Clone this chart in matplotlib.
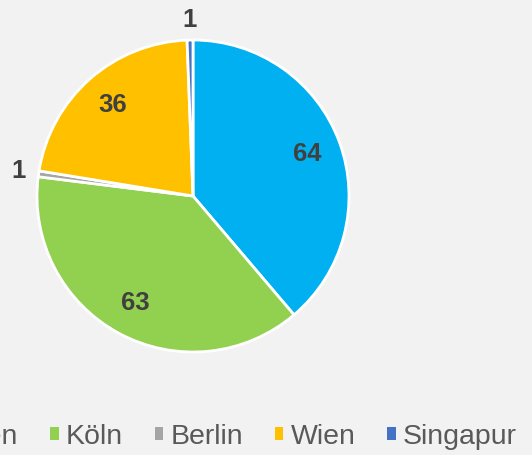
import numpy as np
import matplotlib
matplotlib.use("Agg")
import matplotlib.pyplot as plt
from matplotlib.patches import Patch

# data
cities = ['München', 'Köln', 'Berlin', 'Wien', 'Singapur']
counts = [64, 63, 1, 36, 1]
colors = ['#00b0f0', '#92d050', '#a5a5a5', '#ffc000', '#4472c4']

plt.rcParams['font.family'] = ['Liberation Sans', 'DejaVu Sans']

fig = plt.figure(figsize=(5.32, 4.55), dpi=100)
fig.patch.set_facecolor('#f2f2f2')

# pie centre ~ (193,196) px, radius ~156 px
ax = fig.add_axes([37 / 532, (455 - 196 - 156) / 455, 312 / 532, 312 / 455])
ax.set_facecolor('#f2f2f2')

wedges, texts, autotexts = ax.pie(
    counts, colors=colors, startangle=90, counterclock=False,
    radius=1.0, autopct=lambda p: '%d' % round(p * sum(counts) / 100),
    pctdistance=0.78,
    wedgeprops=dict(edgecolor='#ffffff', linewidth=2),
    textprops=dict(fontsize=18.5, fontweight='bold', color='#404040'))

# small slices get their label outside
for w, t, v in zip(wedges, autotexts, counts):
    if v < 5:
        ang = np.deg2rad((w.theta1 + w.theta2) / 2)
        d = 1.13
        t.set_position((d * np.cos(ang), d * np.sin(ang)))

ax.set_xlim(-1, 1)
ax.set_ylim(-1, 1)
ax.set_aspect('equal')
ax.axis('off')

handles = [Patch(facecolor=c, edgecolor='none') for c in colors]
leg = fig.legend(handles, cities, ncol=5, loc='center right',
                 bbox_to_anchor=(517 / 532, 1 - 437 / 455), frameon=False,
                 borderpad=0, borderaxespad=0,
                 fontsize=20.5, handlelength=0.3, handleheight=0.3,
                 handletextpad=0.25, columnspacing=1.12, labelcolor='#595959')

fig.savefig('out.png', dpi=100, facecolor=fig.get_facecolor())
